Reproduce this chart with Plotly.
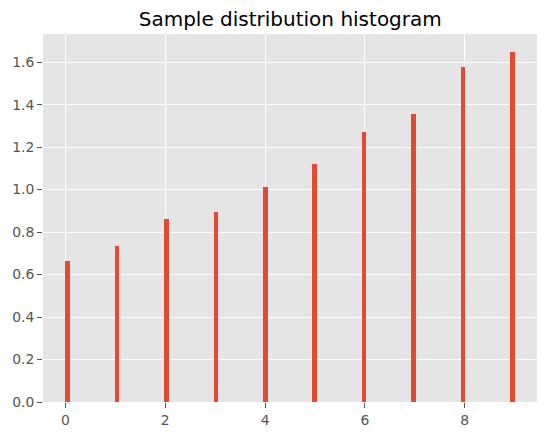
import numpy as np
import plotly.graph_objects as go

# sample positions and their weights
samples = [0, 1, 2, 3, 4, 5, 6, 7, 8, 9]
weights = [0.664, 0.734, 0.861, 0.894, 1.012, 1.120, 1.271, 1.355, 1.576, 1.650]
n_bins = 100

x_ticks = [0, 2, 4, 6, 8]
y_ticks = [0.0, 0.2, 0.4, 0.6, 0.8, 1.0, 1.2, 1.4, 1.6]

counts, edges = np.histogram(samples, bins=n_bins, weights=weights)
keep = counts > 0
left = edges[:-1][keep]
width = np.diff(edges)[keep]

W, H = 547, 436
tick_font = dict(family="DejaVu Sans", size=13.9, color="#555555")

fig = go.Figure(
    go.Bar(
        x=left,
        y=counts[keep],
        width=width,
        offset=0,
        marker=dict(color="#E24A33", line=dict(width=0)),
        hoverinfo="x+y",
    )
)

fig.update_layout(
    width=W,
    height=H,
    margin=dict(l=43, r=9.5, t=34, b=34, pad=0),
    paper_bgcolor="white",
    plot_bgcolor="#E5E5E5",
    showlegend=False,
    bargap=0,
    title=dict(
        text="Sample distribution histogram",
        font=dict(family="DejaVu Sans", size=20, color="black"),
        x=(43 + W - 9.5) / 2 / W,
        xanchor="center",
        xref="container",
        y=1 - 19 / H,
        yanchor="middle",
        yref="container",
        automargin=False,
    ),
)

fig.update_xaxes(
    range=[-0.45, 9.45],
    tickvals=x_ticks,
    ticks="outside",
    ticklen=4.9,
    tickwidth=1.1,
    tickcolor="#555555",
    tickfont=tick_font,
    showgrid=True,
    gridcolor="white",
    gridwidth=1.1,
    zeroline=False,
    showline=False,
    automargin=False,
)
fig.update_yaxes(
    range=[0, 1.65 * 1.05],
    tickvals=y_ticks,
    tickformat=".1f",
    ticks="outside",
    ticklen=4.9,
    tickwidth=1.1,
    tickcolor="#555555",
    tickfont=tick_font,
    showgrid=True,
    gridcolor="white",
    gridwidth=1.1,
    zeroline=False,
    showline=False,
    automargin=False,
)

# the page's default body margin would shift the whole figure by 8px
fig.write_html(
    "out.html",
    config={"displayModeBar": False},
    post_script="document.body.style.margin = '0';",
)
